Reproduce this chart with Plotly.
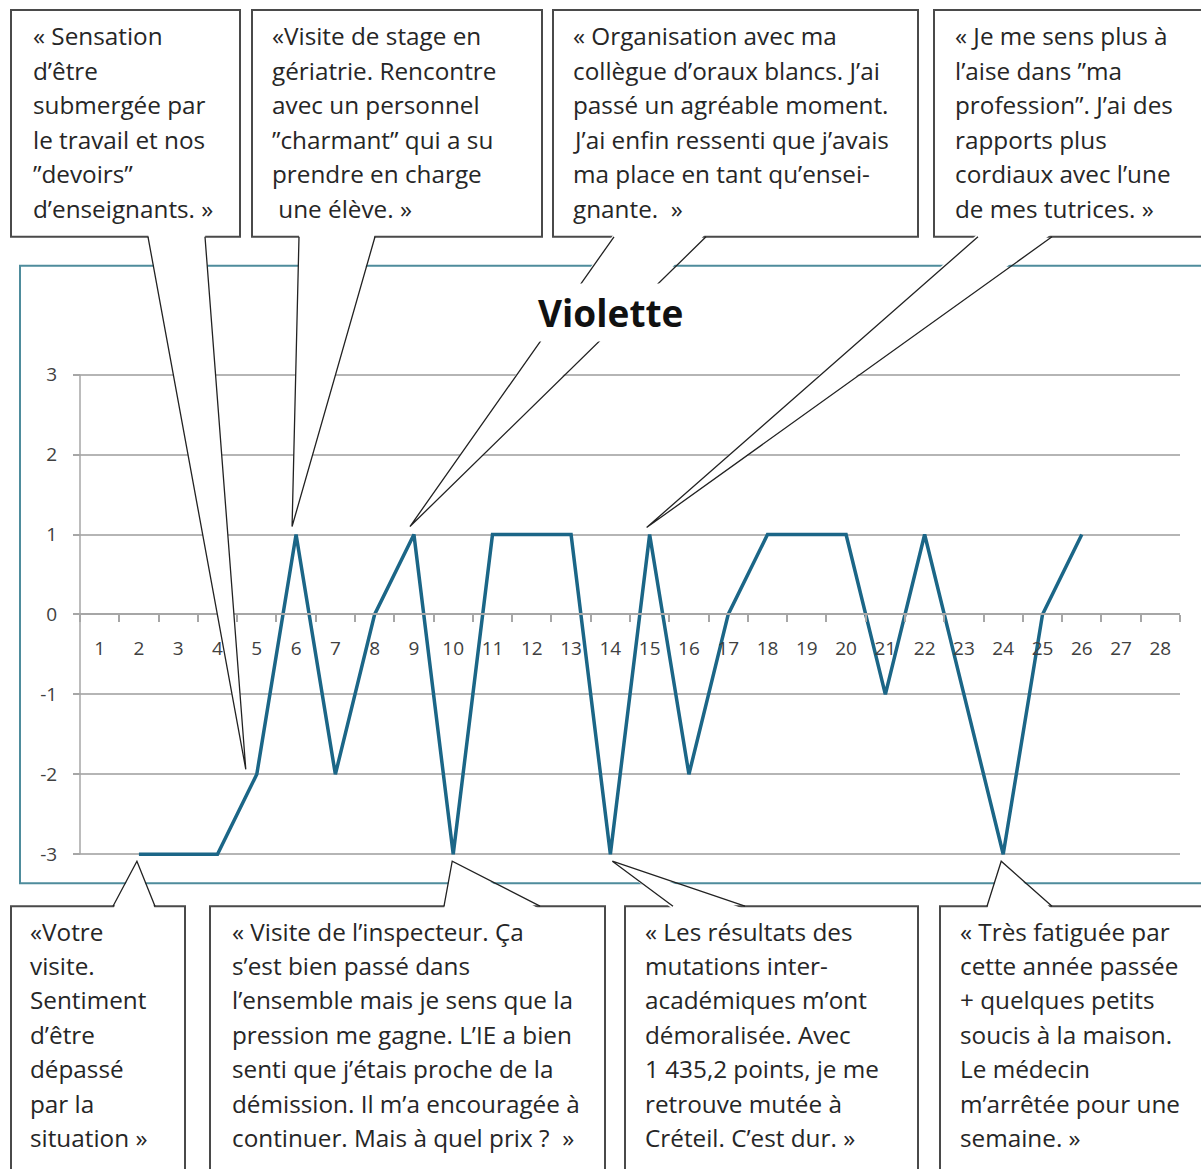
import plotly.graph_objects as go

# ---------------- data ----------------
categories = [str(i) for i in range(1, 29)]
values = [None, -3, -3, -3, -2, 1, -2, 0, 1, -3, 1, 1, 1, -3, 1, -2, 0, 1, 1, 1,
          -1, 1, -1, -3, 0, 1, None, None]
y_ticks = [-3, -2, -1, 0, 1, 2, 3]
y_tick_labels = ["-3", "-2", "-1", "0", "1", "2", "3"]
title_text = "Violette"

top_texts = [
    ["« Sensation", "d’être", "submergée par", "le travail et nos", "”devoirs”", "d’enseignants. »"],
    ["«Visite de stage en", "gériatrie. Rencontre", "avec un personnel", "”charmant” qui a su",
     "prendre en charge", " une élève. »"],
    ["« Organisation avec ma", "collègue d’oraux blancs. J’ai", "passé un agréable moment.",
     "J’ai enfin ressenti que j’avais", "ma place en tant qu’ensei-", "gnante.  »"],
    ["« Je me sens plus à", "l’aise dans ”ma", "profession”. J’ai des", "rapports plus",
     "cordiaux avec l’une", "de mes tutrices. »"],
]
bottom_texts = [
    ["«Votre", "visite.", "Sentiment", "d’être", "dépassé", "par la", "situation »"],
    ["« Visite de l’inspecteur. Ça", "s’est bien passé dans", "l’ensemble mais je sens que la",
     "pression me gagne. L’IE a bien", "senti que j’étais proche de la",
     "démission. Il m’a encouragée à", "continuer. Mais à quel prix ?  »"],
    ["« Les résultats des", "mutations inter-", "académiques m’ont", "démoralisée. Avec",
     "1 435,2 points, je me", "retrouve mutée à", "Créteil. C’est dur. »"],
    ["« Très fatiguée par", "cette année passée", "+ quelques petits", "soucis à la maison.",
     "Le médecin", "m’arrêtée pour une", "semaine. »"],
]
top_targets = [5, 6, 9, 15]
bottom_targets = [2, 10, 14, 24]

# ---------------- layout geometry (target pixels) ----------------
W, H = 1201, 1169
V_OFF, V_SC = 9.0, 0.9855      # vertical render calibration of the viewer
PX_L, PX_R = 80, 1180
PY_T, PY_B = 371, 859
YR = [-3.05, 3.05]
XR = [-0.5, len(categories) - 0.5]

def px_x(cat):
    i = categories.index(str(cat))
    return PX_L + (i - XR[0]) / (XR[1] - XR[0]) * (PX_R - PX_L)

def px_y(v):
    return PY_B - (v - YR[0]) / (YR[1] - YR[0]) * (PY_B - PY_T)

def value_of(cat):
    return values[categories.index(str(cat))]

def pxp(x):
    return x / W

def pyp(y):
    fy = (y - V_OFF) / V_SC
    return 1 - fy / H

top_boxes = [(11, 240), (252, 542), (553, 918), (934, 1205)]
top_text_x = [31, 270, 571, 953]
top_bases = [(148, 205), (299, 375), (614, 706), (978, 1052)]
top_tip_off = [(-11, -5), (-4, -8), (-4, -8), (-3, -7)]
TOP_Y0, TOP_Y1 = 10, 237

bot_boxes = [(11, 185), (210, 605), (625, 918), (940, 1205)]
bot_text_x = [28, 230, 643, 958]
bot_bases = [(113, 155), (444, 540), (673, 745), (987, 1052)]
bot_tip_off = [(-2, 7), (-1, 7), (2, 7), (-2, 7)]
BOT_Y0, BOT_Y1 = 907, 1200

LINE_COLOR = "#1b6687"
BOX_LINE = "#4a4a4a"
TEXT_COLOR = "#262626"
FONT = "Open Sans"
TXT_SIZE = 24.3
TICK_FONT = "Open Sans"

fig = go.Figure()
fig.add_trace(go.Scatter(x=categories, y=values, mode="lines",
                         line=dict(color=LINE_COLOR, width=3.5),
                         connectgaps=False, hoverinfo="skip", showlegend=False))

shapes = []
annotations = []

shapes.append(dict(type="rect", xref="paper", yref="paper",
                   x0=pxp(20), x1=pxp(1215), y0=pyp(884), y1=pyp(266),
                   line=dict(color="#4e8c9c", width=2), fillcolor="rgba(0,0,0,0)", layer="above"))
shapes.append(dict(type="line", xref="paper", yref="y", x0=pxp(PX_L), x1=pxp(PX_L), y0=-3, y1=3,
                   line=dict(color="#a6a6a6", width=1.5), layer="above"))


def add_callout(box, y0, y1, base, tgt, off, top):
    bx0, bx1 = box
    shapes.append(dict(type="rect", xref="paper", yref="paper",
                       x0=pxp(bx0), x1=pxp(bx1), y0=pyp(y1), y1=pyp(y0),
                       line=dict(color=BOX_LINE, width=2), fillcolor="white", layer="above"))
    tx = px_x(tgt) + off[0]
    ty = px_y(value_of(tgt)) + off[1]
    edge = y1 if top else y0
    inner = edge - 3 if top else edge + 3
    xa, xb = base
    shapes.append(dict(type="path", xref="paper", yref="paper",
                       path=f"M {pxp(xa)},{pyp(inner)} L {pxp(tx)},{pyp(ty)} L {pxp(xb)},{pyp(inner)} Z",
                       fillcolor="white", line=dict(width=0), layer="above"))
    shapes.append(dict(type="path", xref="paper", yref="paper",
                       path=f"M {pxp(xa)},{pyp(edge)} L {pxp(tx)},{pyp(ty)} L {pxp(xb)},{pyp(edge)}",
                       line=dict(color="#222222", width=1.3), layer="above"))


for k in range(4):
    add_callout(top_boxes[k], TOP_Y0, TOP_Y1, top_bases[k], top_targets[k], top_tip_off[k], True)
    for j, line in enumerate(top_texts[k]):
        annotations.append(dict(xref="paper", yref="paper", x=pxp(top_text_x[k]),
                                y=pyp(36 + j * 34.5), text=line, showarrow=False,
                                xanchor="left", yanchor="middle",
                                font=dict(family=FONT, size=TXT_SIZE, color=TEXT_COLOR)))
for k in range(4):
    add_callout(bot_boxes[k], BOT_Y0, BOT_Y1, bot_bases[k], bottom_targets[k], bot_tip_off[k], False)
    for j, line in enumerate(bottom_texts[k]):
        annotations.append(dict(xref="paper", yref="paper", x=pxp(bot_text_x[k]),
                                y=pyp(932 + j * 34.4), text=line, showarrow=False,
                                xanchor="left", yanchor="middle",
                                font=dict(family=FONT, size=TXT_SIZE, color=TEXT_COLOR)))

annotations.append(dict(xref="paper", yref="paper", x=pxp(610), y=pyp(313),
                        text=f"<b>{title_text}</b>", showarrow=False,
                        xanchor="center", yanchor="middle", bgcolor="white", borderpad=3,
                        font=dict(family=FONT, size=37, color="#111111")))

fig.update_layout(
    width=W, height=H, autosize=False,
    margin=dict(l=0, r=0, t=0, b=0),
    paper_bgcolor="white", plot_bgcolor="white",
    showlegend=False,
    shapes=shapes, annotations=annotations,
    xaxis=dict(type="category", categoryorder="array", categoryarray=categories,
               range=XR, domain=[pxp(PX_L), pxp(PX_R)],
               anchor="free", position=pyp(px_y(0)),
               showgrid=False, zeroline=False, showline=True, linecolor="#a6a6a6", linewidth=1.5,
               ticks="outside", tickson="boundaries", ticklen=7, tickcolor="#a6a6a6", tickwidth=1.5,
               tickfont=dict(family=TICK_FONT, size=19, color="#404040"), ticklabelstandoff=17,
               fixedrange=True),
    yaxis=dict(range=YR, domain=[pyp(PY_B), pyp(PY_T)],
               tickvals=y_ticks, ticktext=y_tick_labels,
               anchor="free", position=pxp(PX_L),
               showgrid=True, gridcolor="#b5b5b5", gridwidth=1.5, zeroline=False, showline=False,
               ticks="outside", ticklen=7, tickcolor="#a6a6a6", tickwidth=1.5,
               tickfont=dict(family=TICK_FONT, size=19, color="#404040"), ticklabelstandoff=12,
               fixedrange=True),
)

post = ("document.documentElement.style.margin='0';document.body.style.margin='0';"
        "document.documentElement.style.overflow='hidden';document.body.style.overflow='hidden';"
        "var gd=document.getElementById('{plot_id}');gd.style.position='fixed';"
        "gd.style.left='0px';gd.style.top='0px';")

fig.write_html("out.html", config={"displayModeBar": False}, post_script=post)
